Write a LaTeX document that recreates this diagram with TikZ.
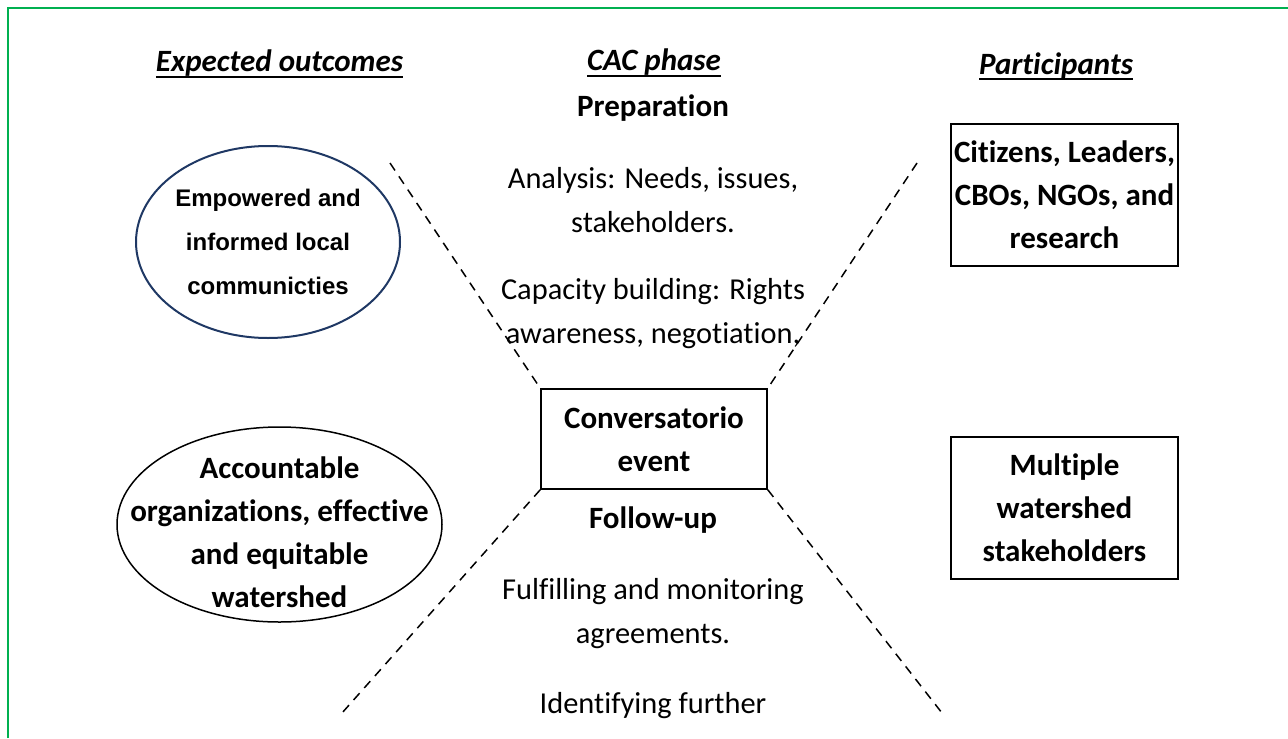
\documentclass[tikz,border=0pt]{standalone}
\usepackage{fontspec}
\setmainfont{Carlito}[Ligatures=NoCommon]
\newfontfamily\arialfont{Liberation Sans}
\usetikzlibrary{shapes.geometric,positioning}
\definecolor{framegreen}{RGB}{0,176,80}
\definecolor{navyline}{RGB}{31,56,100}
% underline that cuts through the descenders:
\newcommand\headline[1]{\setbox0\hbox{#1}\rlap{\rule[-2.75pt]{\wd0}{1pt}}\box0}

\begin{document}
\begin{tikzpicture}[x=0.5pt,y=-0.5pt,
  heading/.style={anchor=base,font=\fontsize{15.5}{18}\selectfont\bfseries\itshape},
  phase/.style={anchor=base,font=\fontsize{15.5}{18}\selectfont\bfseries},
  body/.style={anchor=base,align=center,font=\fontsize{15.2}{22}\selectfont},
  boxtext/.style={align=center,font=\fontsize{15.5}{21.5}\selectfont\bfseries},
  partbox/.style={boxtext,draw,line width=0.8pt,minimum width=113.5pt,minimum height=71pt,inner sep=0pt},
  divider/.style={line width=0.75pt,dash pattern=on 4.5pt off 3.5pt}]
  \useasboundingbox (0,0) rectangle (1288,738);
  % green frame, open to the right and below:
  \draw[framegreen,line width=0.8pt] (8,738) -- (8,8) -- (1288,8);
  % column headings:
  \node[heading] (hout) at (279.5,72) {\headline{Expected outcomes}};
  \node[heading] (hphase) at (654,71) {\headline{CAC phase}};
  \node[heading] (hpart) at (1056,75) {\headline{Participants}};
  % preparation phase (base is the last line):
  \node[phase] (prep) at (653,116) {Preparation};
  \node[body] (analysis) at (653,232) {Analysis: Needs, issues,\\stakeholders.};
  \node[body] (capacity) at (653,343) {Capacity building: Rights\\awareness, negotiation,};
  % the event itself:
  \node[boxtext,draw,line width=0.8pt,minimum width=113pt,minimum height=50pt,inner sep=0pt]
    (event) at (654,439) {Conversatorio\\event};
  % follow-up phase:
  \node[phase] (follow) at (653,528) {Follow-up};
  \node[body] (fulfil) at (653,643) {Fulfilling and monitoring\\agreements.};
  \node[body] (further) at (653,713) {Identifying further};
  % expected outcomes:
  \node[ellipse,draw=navyline,line width=1pt,minimum width=132pt,minimum height=96pt,inner sep=0pt,
    align=center,font=\fontsize{12}{22}\selectfont\arialfont\bfseries]
    (empower) at (268,242) {Empowered and\\informed local\\communicties};
  \node[boxtext] (account) at (279.5,532) {Accountable\\organizations, effective\\and equitable\\watershed};
  % outline of the second outcome, tighter than its text:
  \draw[line width=0.75pt] (279.5,524.5) ellipse (162.5 and 97.5);
  % participants:
  \node[partbox] (citizens) at (1064.5,195) {Citizens, Leaders,\\CBOs, NGOs, and\\research};
  \node[partbox] (multiple) at (1064.5,508) {Multiple\\watershed\\stakeholders};
  % free ends of the dashed dividers:
  \coordinate (ulend) at (390,163);
  \coordinate (urend) at (917,163);
  \coordinate (llend) at (342,713);
  \coordinate (lrend) at (942,713);
  % dashed dividers:
  \draw[divider] (ulend) -- (event.north west);
  \draw[divider] (urend) -- (event.north east);
  \draw[divider] (event.south west) -- (llend);
  \draw[divider] (event.south east) -- (lrend);
\end{tikzpicture}
\end{document}
